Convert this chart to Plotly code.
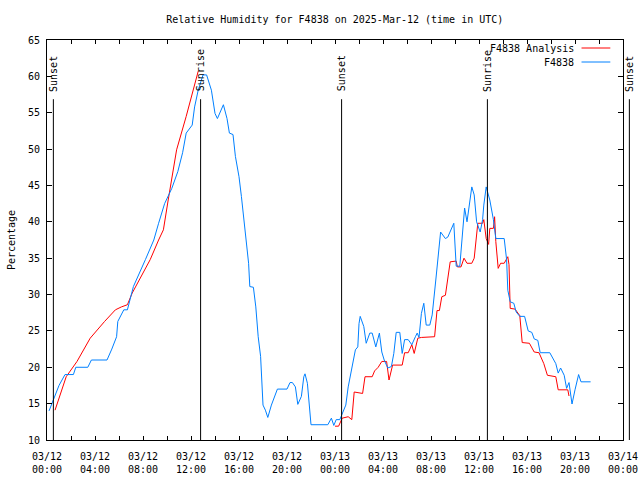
import plotly.graph_objects as go
from datetime import datetime, timedelta

BASE = datetime(2025, 3, 12)
RANGE_HOURS = 48

# Observations (F4838) : hours since 2025-03-12 00:00 UTC, relative humidity %
obs_hours = [0.17, 0.6, 1.0, 1.5, 2.2, 2.4, 3.4, 3.7, 5.0, 5.4, 5.8, 5.9, 6.4, 6.7, 7.2, 8.2, 8.9,
             9.3, 9.8, 10.4, 10.9, 11.3, 11.6, 12.1, 12.3, 12.6, 13.0, 13.3, 13.7, 14.0, 14.2, 14.7,
             15.0, 15.2, 15.5, 15.7, 16.0, 16.2, 16.4, 16.6, 16.8, 16.9, 17.2, 17.4, 17.6, 17.8, 17.9,
             18.0, 18.2, 18.4, 18.7, 19.0, 19.2, 20.0, 20.25, 20.45, 20.7, 20.9, 21.2, 21.4, 21.5,
             21.7, 21.9, 22.0, 23.4, 23.7, 23.9, 24.1, 24.4, 24.6, 24.9, 25.1, 25.4, 25.7, 25.9, 26.0,
             26.1, 26.4, 26.6, 26.9, 27.1, 27.4, 27.7, 27.9, 28.1, 28.4, 28.7, 28.9, 29.1, 29.4, 29.6,
             29.8, 30.1, 30.4, 30.7, 30.85, 31.0, 31.2, 31.4, 31.6, 31.9, 32.1, 32.4, 32.6, 32.8, 33.2,
             33.4, 33.9, 34.1, 34.4, 34.7, 34.8, 35.0, 35.2, 35.3, 35.4, 35.6, 35.8, 36.1, 36.3, 36.4,
             36.6, 36.9, 37.2, 37.4, 38.1, 38.3, 38.4, 38.6, 38.9, 39.1, 39.4, 39.8, 40.1, 40.4, 40.6,
             40.9, 41.1, 41.9, 42.4, 42.6, 42.8, 43.1, 43.3, 43.5, 43.75, 44.0, 44.3, 44.5, 45.3]
obs_rh = [14.0, 15.8, 17.5, 19.0, 19.0, 20.0, 20.0, 21.0, 21.0, 22.5, 24.2, 26.3, 27.9, 27.9, 31.1, 34.8, 37.5,
          39.8, 42.5, 44.6, 46.9, 49.5, 52.2, 53.3, 55.8, 58.1, 60.2, 60.2, 58.1, 54.9, 54.2, 56.1,
          54.2, 52.2, 52.0, 49.0, 46.2, 43.5, 40.7, 37.5, 34.3, 31.1, 31.0, 28.3, 24.2, 21.5, 18.7,
          14.8, 14.1, 13.1, 14.8, 16.0, 17.0, 17.0, 17.9, 17.9, 17.3, 14.9, 16.0, 18.7, 19.1,
          17.8, 14.6, 12.1, 12.1, 13.0, 12.0, 12.8, 12.8, 13.7, 14.8, 17.3, 20.1, 22.4, 22.8, 26.0,
          27.0, 25.6, 23.3, 24.7, 24.7, 22.8, 24.7, 22.1, 21.0, 19.9, 20.1, 21.9, 24.8, 24.8, 21.9,
          23.8, 23.8, 23.1, 24.2, 24.7, 24.1, 27.4, 28.8, 25.8, 25.8, 27.2, 32.0, 35.2, 38.6, 37.7,
          37.9, 39.8, 33.9, 33.9, 39.3, 41.9, 40.0, 42.1, 43.7, 44.8, 43.7, 40.0, 38.6, 40.3, 42.3,
          44.8, 43.0, 40.3, 37.7, 37.7, 34.8, 30.6, 29.0, 28.8, 27.6, 27.0, 27.0, 25.0, 24.8, 23.9,
          23.7, 22.0, 22.0, 20.5, 19.2, 19.9, 18.9, 17.1, 17.9, 14.95, 16.9, 19.0, 18.0, 18.0]

# Analysis (F4838 Analysis); None marks the gap in the analysis
ana_hours = [0.67, 1.6, 2.5, 3.6, 4.8, 5.7, 6.2, 6.7, 7.1, 8.6, 9.3, 9.7, 10.1, 10.5, 10.8, 11.6, 12.6,
             None,
             24.0, 24.3, 24.6, 25.1, 25.4, 25.6, 26.3, 26.5, 27.1, 27.3, 27.6, 27.9, 28.3, 28.5, 28.8,
             29.6, 29.8, 30.1, 30.4, 30.6, 30.9, 31.2, 32.3, 32.5, 32.7, 32.9, 33.2, 33.4, 33.6, 34.1,
             34.2, 34.5, 34.75, 35.0, 35.4, 35.6, 35.75, 35.9, 36.3, 36.4, 36.6, 36.8, 36.9, 37.2,
             37.3, 37.4, 37.6, 37.8, 38.1, 38.4, 38.5, 38.6, 39.0, 39.4, 39.6, 40.2, 40.6, 41.0, 41.4,
             41.7, 42.4, 42.6, 43.4, 43.5]
ana_rh = [14.1, 18.7, 20.8, 24.0, 26.3, 27.9, 28.3, 28.6, 30.2, 34.8, 37.5, 38.9, 43.0, 47.1, 49.9, 54.5, 60.7,
          None,
          11.9, 11.9, 13.0, 13.2, 12.8, 16.6, 16.4, 18.7, 18.7, 19.5, 20.0, 20.8, 20.8, 18.25, 20.3,
          20.3, 22.0, 22.0, 23.1, 21.9, 24.0, 24.1, 24.2, 27.8, 27.8, 29.7, 29.9, 32.0, 34.5, 34.6,
          33.8, 33.8, 35.0, 34.3, 34.3, 35.0, 37.7, 39.8, 39.8, 40.3, 37.7, 36.9, 39.1, 39.1,
          40.7, 37.3, 33.6, 34.3, 34.3, 35.2, 34.1, 28.1, 28.0, 27.1, 23.4, 23.3, 22.1, 22.0, 20.5,
          18.9, 18.7, 16.9, 16.9, 16.05]

# Sun events (hours since 2025-03-12 00:00 UTC)
event_hours = [0.53, 12.8, 24.55, 36.7, 48.53]
event_names = ["Sunset", "Sunrise", "Sunset", "Sunrise", "Sunset"]

# X tick positions (hours) and labels
tick_hours = [0, 2, 4, 6, 8, 10, 12, 14, 16, 18, 20, 22, 24, 26, 28, 30, 32, 34, 36, 38, 40, 42, 44, 46, 48]
tick_labels = ["03/12<br>00:00", "", "03/12<br>04:00", "", "03/12<br>08:00", "", "03/12<br>12:00", "",
               "03/12<br>16:00", "", "03/12<br>20:00", "", "03/13<br>00:00", "", "03/13<br>04:00", "",
               "03/13<br>08:00", "", "03/13<br>12:00", "", "03/13<br>16:00", "", "03/13<br>20:00", "",
               "03/14<br>00:00"]

series_names = ["F4838 Analysis", "F4838"]
series_colors = ["#ff0000", "#0080ff"]


def to_time(h):
    return None if h is None else BASE + timedelta(hours=h)


FONT = dict(family="DejaVu Sans Mono", size=10, color="black")

fig = go.Figure()
fig.add_trace(go.Scatter(x=[to_time(h) for h in ana_hours], y=ana_rh, mode="lines",
                         line=dict(color=series_colors[0], width=1), connectgaps=False,
                         name=series_names[0], showlegend=False, hoverinfo="skip"))
fig.add_trace(go.Scatter(x=[to_time(h) for h in obs_hours], y=obs_rh, mode="lines",
                         line=dict(color=series_colors[1], width=1),
                         name=series_names[1], showlegend=False, hoverinfo="skip"))

shapes = []
annotations = []
for h, name in zip(event_hours, event_names):
    fx = h / RANGE_HOURS
    shapes.append(dict(type="line", xref="paper", yref="paper", x0=fx, x1=fx, y0=0, y1=0.852,
                       line=dict(color="black", width=1)))
    annotations.append(dict(text=name, xref="paper", yref="paper", x=fx, y=0.866,
                            xanchor="center", yanchor="bottom", textangle=-90,
                            showarrow=False, font=FONT))

# custom legend (text left of line sample)
legend_y = [0.98, 0.945]
for name, color, ly in zip(series_names, series_colors, legend_y):
    annotations.append(dict(text=name, xref="paper", yref="paper", x=0.918, y=ly,
                            xanchor="right", yanchor="middle", showarrow=False, font=FONT))
    shapes.append(dict(type="line", xref="paper", yref="paper", x0=0.928, x1=0.978, y0=ly, y1=ly,
                       line=dict(color=color, width=1)))

fig.update_layout(
    width=640, height=480,
    margin=dict(l=47, r=17, t=40, b=40, autoexpand=False),
    paper_bgcolor="white", plot_bgcolor="white",
    font=FONT,
    title=dict(text="Relative Humidity for F4838 on 2025-Mar-12 (time in UTC)",
               x=0.523, xanchor="center", y=0.96, yanchor="middle", font=FONT),
    shapes=shapes, annotations=annotations,
    showlegend=False,
)
fig.update_xaxes(
    type="date", range=[to_time(0), to_time(RANGE_HOURS)],
    tickmode="array", tickvals=[to_time(h) for h in tick_hours], ticktext=tick_labels,
    ticks="inside", ticklen=4, tickcolor="black", showgrid=False, zeroline=False,
    showline=True, linecolor="black", linewidth=1, mirror="ticks", tickfont=FONT,
    ticklabelstandoff=7,
)
fig.update_yaxes(
    range=[10, 65], dtick=5, tick0=10, ticks="inside", ticklen=5, tickcolor="black",
    showgrid=False, zeroline=False, showline=True, linecolor="black", linewidth=1,
    mirror="ticks", tickfont=FONT, ticklabelstandoff=4,
    title=dict(text="Percentage", font=FONT, standoff=10),
)

fig.write_html("out.html", config={"displayModeBar": False},
               post_script="document.body.style.margin='0';document.body.style.overflow='hidden';")
